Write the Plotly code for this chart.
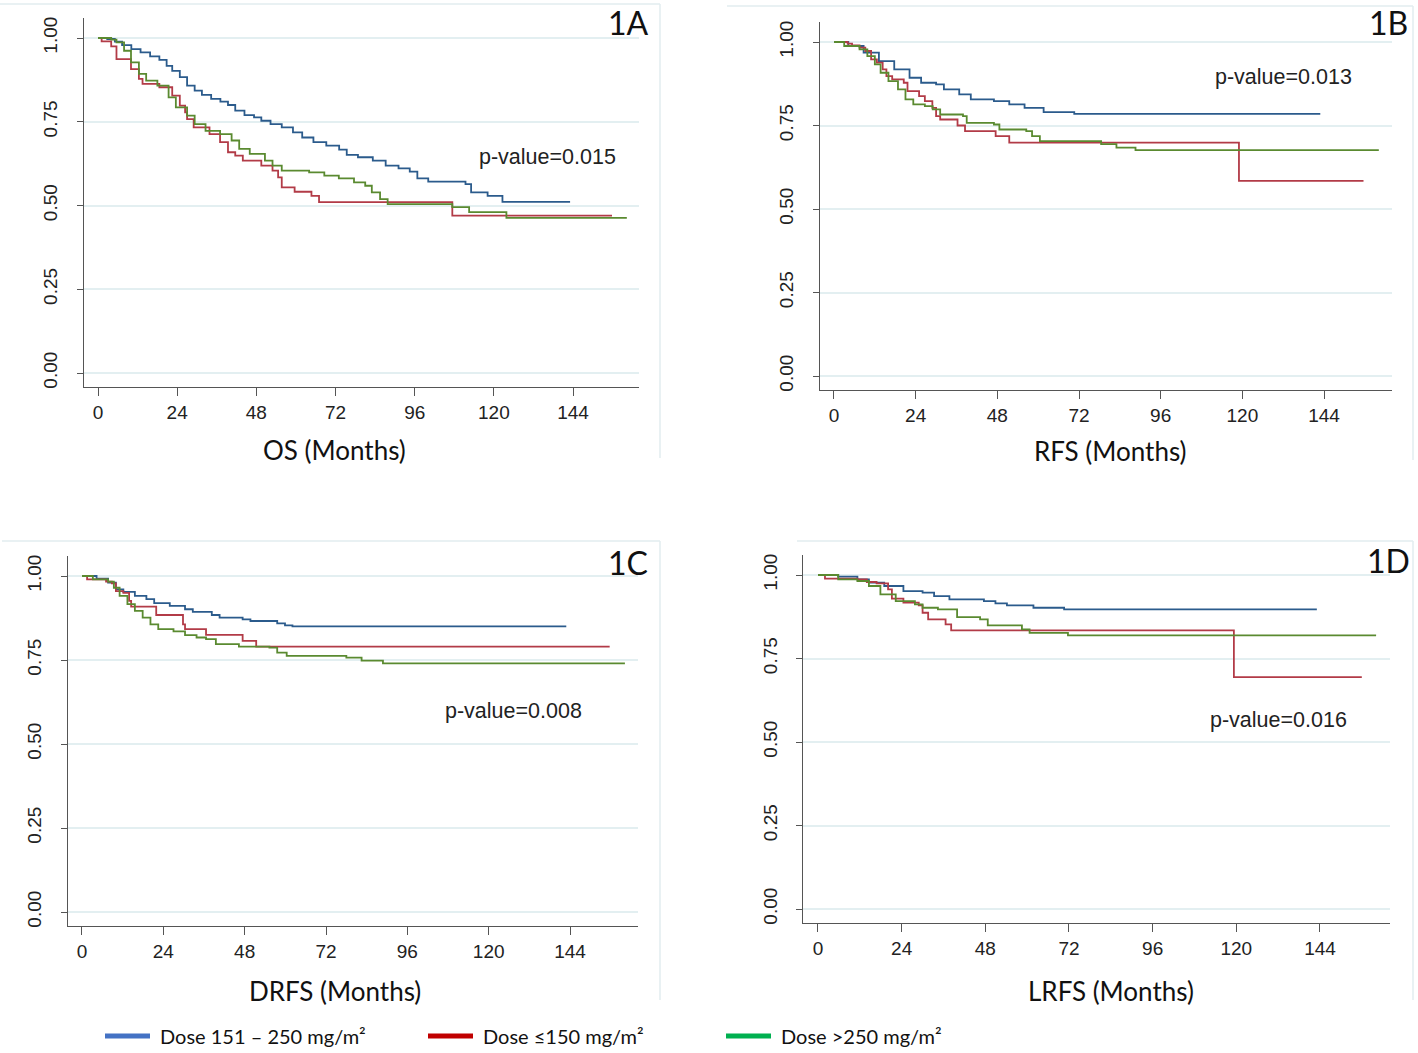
import plotly.graph_objects as go

# ---- data (months, survival probability) ----
panels = ["1A", "1B", "1C", "1D"]
x_titles = ["OS (Months)", "RFS (Months)", "DRFS (Months)", "LRFS (Months)"]
p_values = ["p-value=0.015", "p-value=0.013", "p-value=0.008", "p-value=0.016"]
group_names = ["Dose 151 \u2013 250 mg/m\u00b2", "Dose \u2264150 mg/m\u00b2", "Dose >250 mg/m\u00b2"]

# 1A  OS
os_mid_t = [0, 2.8, 5.1, 7.3, 10.1, 12.9, 15.8, 18.6, 20.8, 22.5, 24.8, 27, 29.3, 31.5, 34.3, 37.1,
            39.4, 41.6, 44.4, 47.3, 49.5, 52.3, 55.7, 59.1, 61.9, 65.3, 69.2, 73.1, 75.4, 78.8, 83.3,
            87.2, 91.1, 94.5, 96.8, 100.1, 111.4, 113.1, 118.1, 122.6, 143.1]
os_mid_s = [1.0, 0.997, 0.989, 0.979, 0.967, 0.957, 0.945, 0.935, 0.917, 0.902, 0.883, 0.858, 0.843,
            0.830, 0.818, 0.810, 0.800, 0.783, 0.770, 0.763, 0.753, 0.743, 0.733, 0.718, 0.703, 0.689,
            0.679, 0.667, 0.651, 0.644, 0.634, 0.619, 0.611, 0.601, 0.581, 0.571, 0.564, 0.539, 0.529,
            0.511, 0.511]
os_low_t = [0, 1.1, 4, 5.6, 10, 12.4, 13.5, 18.6, 22.5, 24.8, 26.4, 27, 29, 33.8, 37, 39.4, 41.6, 43.9,
            49.5, 52.9, 54.6, 55.7, 59.6, 64.7, 67, 107.4, 155.8]
os_low_s = [1.0, 0.99, 0.975, 0.937, 0.907, 0.878, 0.863, 0.853, 0.828, 0.798, 0.778, 0.758, 0.733,
            0.713, 0.689, 0.659, 0.649, 0.634, 0.619, 0.604, 0.584, 0.554, 0.541, 0.529, 0.51, 0.47, 0.47]
os_high_t = [0, 4, 5.6, 7.9, 10, 12.4, 14.6, 18, 21.4, 23.6, 27, 29.3, 32.6, 37, 40.5, 42.8, 46, 50.6,
             52.9, 55.7, 64, 68.6, 73, 77.6, 81, 83, 85.5, 87.8, 107.4, 112.5, 123.8, 160.3]
os_high_s = [1.0, 0.995, 0.987, 0.962, 0.927, 0.893, 0.873, 0.858, 0.823, 0.793, 0.768, 0.743, 0.723,
             0.713, 0.694, 0.669, 0.654, 0.634, 0.619, 0.604, 0.599, 0.589, 0.581, 0.569, 0.559, 0.539,
             0.519, 0.504, 0.495, 0.48, 0.463, 0.463]

# 1B  RFS
rfs_mid_t = [0, 4.2, 8.7, 13.2, 17.7, 22.2, 25.6, 30, 32.3, 36.8, 40.2, 47, 51.5, 56, 61.6, 70.6, 142.9]
rfs_mid_s = [1.0, 0.988, 0.968, 0.943, 0.918, 0.893, 0.878, 0.873, 0.858, 0.843, 0.828, 0.823, 0.813,
             0.803, 0.79, 0.785, 0.785]
rfs_low_t = [0, 4, 5.3, 7.5, 9.2, 10.9, 12.6, 14.3, 15.4, 17.1, 20.5, 21.6, 25, 26.7, 28.9, 30, 31.2,
             36.3, 38.5, 47.5, 51.5, 119, 155.6]
rfs_low_s = [1.0, 0.995, 0.99, 0.983, 0.973, 0.948, 0.938, 0.918, 0.898, 0.888, 0.878, 0.853, 0.838,
             0.823, 0.803, 0.778, 0.768, 0.75, 0.733, 0.718, 0.699, 0.584, 0.584]
rfs_high_t = [0, 3, 7.5, 9.8, 12, 13.7, 16, 18.8, 21, 23.3, 26.7, 29, 31.2, 37.9, 39, 47, 48.6, 56.5,
              58.2, 60.5, 78.5, 83, 88.6, 160.1]
rfs_high_s = [1.0, 0.988, 0.978, 0.958, 0.933, 0.908, 0.883, 0.858, 0.828, 0.813, 0.808, 0.798, 0.783,
              0.778, 0.758, 0.753, 0.738, 0.733, 0.718, 0.703, 0.694, 0.684, 0.676, 0.676]

# 1C  DRFS
drfs_mid_t = [0, 4.3, 7.7, 10, 12.2, 15.6, 19, 21.3, 25.9, 30.4, 32.7, 38.3, 40.6, 47.4, 49.7, 57.6,
              59.9, 62.1, 142.9]
drfs_mid_s = [1.0, 0.992, 0.98, 0.96, 0.953, 0.941, 0.931, 0.919, 0.911, 0.901, 0.893, 0.884, 0.876,
              0.871, 0.866, 0.859, 0.853, 0.85, 0.85]
drfs_low_t = [0, 1.5, 7.1, 8.8, 10, 12.2, 13.9, 14.5, 21.9, 29.8, 30.4, 36.6, 47.4, 51.4, 155.7]
drfs_low_s = [1.0, 0.99, 0.983, 0.978, 0.955, 0.95, 0.926, 0.909, 0.884, 0.856, 0.842, 0.825, 0.807,
              0.79, 0.79]
drfs_high_t = [0, 3.2, 7.7, 9.4, 11.1, 13.4, 15.6, 17.9, 20.2, 22.5, 27, 30.4, 33.8, 36.6, 39.5, 46.3,
               55.3, 57.6, 60.4, 78, 82.5, 88.8, 160.2]
drfs_high_s = [1.0, 0.99, 0.983, 0.965, 0.941, 0.916, 0.896, 0.876, 0.856, 0.842, 0.835, 0.824, 0.817,
               0.812, 0.797, 0.79, 0.787, 0.772, 0.762, 0.757, 0.748, 0.74, 0.74]

# 1D  LRFS
lrfs_mid_t = [0, 5.8, 11.3, 14.6, 19, 24.5, 30, 33.3, 37.7, 47.6, 50.9, 54.2, 61.8, 70.6, 143.1]
lrfs_mid_s = [1.0, 0.995, 0.987, 0.977, 0.967, 0.952, 0.947, 0.937, 0.927, 0.922, 0.915, 0.909, 0.902,
              0.897, 0.897]
lrfs_low_t = [0, 2, 11.3, 14, 16.8, 20.1, 21.2, 24.5, 28.9, 30, 31.6, 36.6, 38.2, 119.3, 156]
lrfs_low_s = [1.0, 0.989, 0.987, 0.979, 0.975, 0.957, 0.929, 0.917, 0.909, 0.887, 0.867, 0.852, 0.834,
              0.694, 0.694]
lrfs_high_t = [0, 5.8, 11.3, 14.6, 17.9, 22.3, 27.8, 30, 34.4, 39.9, 46.5, 48.7, 58.5, 60.7, 71.7, 160.1]
lrfs_high_s = [1.0, 0.987, 0.982, 0.967, 0.942, 0.922, 0.912, 0.902, 0.897, 0.874, 0.867, 0.849, 0.837,
               0.827, 0.819, 0.819]

curves = [
    [(os_mid_t, os_mid_s), (os_low_t, os_low_s), (os_high_t, os_high_s)],
    [(rfs_mid_t, rfs_mid_s), (rfs_low_t, rfs_low_s), (rfs_high_t, rfs_high_s)],
    [(drfs_mid_t, drfs_mid_s), (drfs_low_t, drfs_low_s), (drfs_high_t, drfs_high_s)],
    [(lrfs_mid_t, lrfs_mid_s), (lrfs_low_t, lrfs_low_s), (lrfs_high_t, lrfs_high_s)],
]

x_ticks = [0, 24, 48, 72, 96, 120, 144]
y_ticks = [0, 0.25, 0.5, 0.75, 1.0]
y_tick_text = ["0.00", "0.25", "0.50", "0.75", "1.00"]

# ---- styling / layout ----
W, H = 1418, 1053
curve_colors = ["#2b5b8c", "#b23b47", "#5a8a30"]
legend_colors = ["#4472c4", "#c00000", "#00b050"]
X_RANGE = [-4.2, 164]
Y_RANGE = [-0.042, 1.06]

# pixel position of month 0 / survival 0 and pixel scale for each panel
geom = [
    dict(x0=98, ppm=3.299, y0=373, ppu=335),
    dict(x0=834, ppm=3.403, y0=376, ppu=334),
    dict(x0=82, ppm=3.389, y0=912, ppu=336),
    dict(x0=818, ppm=3.486, y0=909, ppu=334),
]
label_pos = [(628, 22), (1388, 22), (628, 562), (1388, 560)]
pval_pos = [(547, 157), (1283, 77), (513, 711), (1278, 720)]
title_pos = [(334, 450), (1110, 451), (335, 991), (1111, 991)]
legend_x = [105, 428, 726]
legend_y = 1036


def px(x):
    return x / W


def py(y):
    return 1 - y / H


fig = go.Figure()
TICK_FONT = dict(family="Liberation Sans, Arial", size=19, color="#222")
TITLE_FONT = dict(family="Lato, Open Sans", size=26, color="#111")

for i, g in enumerate(geom):
    n = "" if i == 0 else str(i + 1)
    xa, ya = "x" + n, "y" + n
    left = g["x0"] + X_RANGE[0] * g["ppm"]
    right = g["x0"] + X_RANGE[1] * g["ppm"]
    bottom = g["y0"] - Y_RANGE[0] * g["ppu"]
    top = g["y0"] - Y_RANGE[1] * g["ppu"]

    for j, (t, s) in enumerate(curves[i]):
        fig.add_trace(go.Scatter(
            x=t, y=s, mode="lines", line=dict(color=curve_colors[j], width=1.8, shape="hv"),
            name=group_names[j], showlegend=False, xaxis=xa, yaxis=ya,
        ))

    fig.layout["xaxis" + n] = dict(
        domain=[px(left), px(right)], range=X_RANGE, anchor=ya, automargin=False,
        tickvals=x_ticks, ticks="outside", ticklen=8, tickcolor="#555", tickwidth=1.2,
        showline=True, linecolor="#555", linewidth=1.3, showgrid=False, zeroline=False,
        tickfont=TICK_FONT,
    )
    fig.layout["yaxis" + n] = dict(
        domain=[py(bottom), py(top)], range=Y_RANGE, anchor=xa, automargin=False,
        tickvals=y_ticks, ticktext=y_tick_text, ticks="outside", ticklen=6, tickcolor="#555",
        tickwidth=1.2, showline=True, linecolor="#555", linewidth=1.3,
        showgrid=True, gridcolor="#e3eff1", gridwidth=1.5, zeroline=False,
        tickangle=-90, tickfont=TICK_FONT, ticklabelstandoff=12,
    )

    fig.add_annotation(x=px(title_pos[i][0]), y=py(title_pos[i][1]), xref="paper", yref="paper",
                       text=x_titles[i], showarrow=False, font=TITLE_FONT,
                       xanchor="center", yanchor="middle")
    fig.add_annotation(x=px(label_pos[i][0]), y=py(label_pos[i][1]), xref="paper", yref="paper",
                       text=panels[i], showarrow=False,
                       font=dict(family="Lato, Open Sans", size=32, color="#111"),
                       xanchor="center", yanchor="middle")
    fig.add_annotation(x=px(pval_pos[i][0]), y=py(pval_pos[i][1]), xref="paper", yref="paper",
                       text=p_values[i], showarrow=False,
                       font=dict(family="Liberation Sans, Arial", size=21.5, color="#222"),
                       xanchor="center", yanchor="middle")

# faint panel frames (top and right edges)
frames = [(0, 660, 4, 458), (727, 1413, 6, 460), (2, 660, 541, 1000), (797, 1413, 541, 1000)]
for (l, r, t, b) in frames:
    fig.add_shape(type="line", xref="paper", yref="paper", x0=px(l), x1=px(r), y0=py(t), y1=py(t),
                  line=dict(color="#e2ecef", width=1.5))
    fig.add_shape(type="line", xref="paper", yref="paper", x0=px(r), x1=px(r), y0=py(t), y1=py(b),
                  line=dict(color="#e2ecef", width=1.5))

# key below the panels (brighter colours, as in the figure), drawn as shapes + text
for j in range(3):
    fig.add_shape(type="line", xref="paper", yref="paper",
                  x0=px(legend_x[j]), x1=px(legend_x[j] + 45), y0=py(legend_y), y1=py(legend_y),
                  line=dict(color=legend_colors[j], width=5))
    fig.add_annotation(x=px(legend_x[j] + 53), y=py(legend_y), xref="paper", yref="paper",
                       text=group_names[j], showarrow=False, xanchor="left", yanchor="middle",
                       font=dict(family="Lato, Open Sans", size=20, color="#111"))

fig.update_layout(
    width=W, height=H, margin=dict(l=0, r=0, t=0, b=0, autoexpand=False),
    paper_bgcolor="white", plot_bgcolor="white",
    showlegend=False,
)

# drop the browser's default 8px body margin so the figure fills the window exactly
fig.write_html("out.html", config={"displayModeBar": False},
               post_script="document.body.style.margin = '0';")
